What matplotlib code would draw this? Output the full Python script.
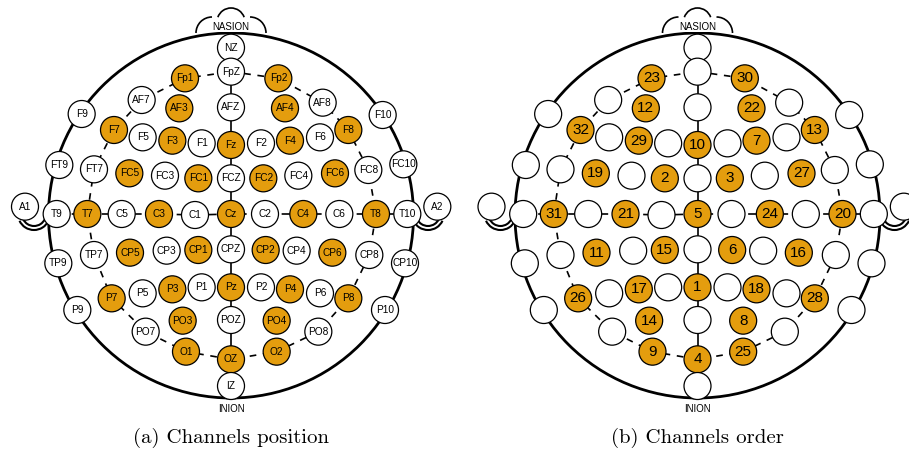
import numpy as np
import matplotlib.pyplot as plt
from matplotlib.patches import Circle, Arc

# electrode names and positions (pixel units, left panel)
names = ["NZ", "FpZ", "Fp1", "Fp2", "AF7", "AF3", "AFZ", "AF4", "AF8",
         "F9", "F7", "F5", "F3", "F1", "Fz", "F2", "F4", "F6", "F8", "F10",
         "FT9", "FT7", "FC5", "FC3", "FC1", "FCZ", "FC2", "FC4", "FC6", "FC8", "FC10",
         "A1", "T9", "T7", "C5", "C3", "C1", "Cz", "C2", "C4", "C6", "T8", "T10", "A2",
         "TP9", "TP7", "CP5", "CP3", "CP1", "CPZ", "CP2", "CP4", "CP6", "CP8", "CP10",
         "P9", "P7", "P5", "P3", "P1", "Pz", "P2", "P4", "P6", "P8", "P10",
         "PO7", "PO3", "POZ", "PO4", "PO8", "O1", "OZ", "O2", "IZ"]
xs = [693, 693, 555, 835, 425, 538, 693, 855, 968,
      245, 342, 428, 517, 605, 693, 783, 870, 960, 1045, 1148,
      178, 282, 388, 495, 595, 693, 790, 895, 1005, 1105, 1210,
      75, 170, 262, 365, 477, 585, 693, 795, 910, 1018, 1128, 1222, 1312,
      175, 282, 390, 500, 595, 693, 797, 890, 997, 1108, 1215,
      232, 335, 428, 517, 605, 693, 783, 870, 960, 1045, 1155,
      437, 548, 693, 830, 955, 558, 693, 830, 693]
ys = [143, 215, 235, 235, 300, 325, 322, 325, 308,
      342, 390, 412, 422, 430, 435, 430, 422, 412, 390, 345,
      495, 508, 520, 527, 535, 535, 535, 527, 520, 510, 493,
      620, 642, 642, 642, 642, 645, 642, 642, 642, 642, 642, 642, 620,
      790, 765, 758, 752, 750, 748, 750, 752, 758, 765, 790,
      930, 895, 880, 868, 862, 862, 862, 868, 880, 895, 930,
      995, 962, 960, 962, 995, 1055, 1078, 1055, 1158]
xs = [v / 3 for v in xs]
ys = [v / 3 for v in ys]

# selected channels in acquisition order (1..32)
order = ["Pz", "FC1", "FC2", "OZ", "Cz", "CP2", "F4", "PO4", "O1", "Fz",
         "CP5", "AF3", "F8", "PO3", "CP1", "CP6", "P3", "P4", "FC5", "T8",
         "C3", "AF4", "Fp1", "C4", "O2", "P7", "FC6", "P8", "F3", "Fp2",
         "T7", "F7"]

ring = ["FpZ", "Fp2", "AF8", "F8", "FC8", "T8", "CP8", "P8", "PO8", "O2", "OZ",
        "O1", "PO7", "P7", "TP7", "T7", "FT7", "F7", "AF7", "Fp1", "FpZ"]
midline = ["NZ", "FpZ", "AFZ", "Fz", "FCZ", "Cz", "CPZ", "POZ", "OZ", "IZ"]
centre_row = ["T9", "T7", "C5", "C3", "C1", "Cz", "C2", "C4", "C6", "T8", "T10"]

caps = ["(a) Channels position", "(b) Channels order"]
ORANGE = "#E49D0E"

pos = {n: (x, y) for n, x, y in zip(names, xs, ys)}

fig = plt.figure(figsize=(9.09, 4.55), dpi=100)
ax = fig.add_axes([0, 0, 1, 1])
ax.set_xlim(0, 909)
ax.set_ylim(455, 0)
ax.set_aspect("equal")
ax.axis("off")

cx0, cy0, R = 231, 215.5, 182.5
offsets = [0, 466.5]

for k, dx in enumerate(offsets):
    cx = cx0 + dx
    # head
    ax.add_patch(Circle((cx, cy0), R, fill=False, lw=2, zorder=1))
    # nose bump (y axis is inverted, so angles run clockwise on screen)
    ax.add_patch(Arc((cx - 19, 33), 32, 32, theta1=180, theta2=270, lw=1.2, zorder=1))
    ax.add_patch(Arc((cx + 19, 33), 32, 32, theta1=270, theta2=360, lw=1.2, zorder=1))
    ax.add_patch(Arc((cx, 22), 28, 28, theta1=200, theta2=340, lw=1.2, zorder=1))
    ax.text(cx, 27, "NASION", ha="center", va="center", fontsize=7,
            family="Liberation Sans", zorder=5,
            bbox=dict(fc="white", ec="none", pad=0.3))
    ax.text(cx, 409, "INION", ha="center", va="center", fontsize=7,
            family="Liberation Sans")
    # ears
    for sgn in (-1, 1):
        ex = cx + sgn * 197
        for r in (12, 16):
            ax.add_patch(Arc((ex, 214), 2 * r, 2 * r, theta1=25, theta2=155,
                             lw=1.5, zorder=1))
    # connection lines
    def pts(lst):
        return ([pos[n][0] + dx for n in lst], [pos[n][1] for n in lst])
    rx, ry = pts(ring)
    ax.plot(rx, ry, color="black", lw=1.2, ls=(0, (4, 4)), zorder=2)
    mx, my = pts(midline)
    ax.plot(mx, my, color="black", lw=1.2, zorder=2)
    hx, hy = pts(centre_row)
    ax.plot(hx, hy, color="black", lw=1.2, ls=(0, (6, 3)), zorder=2)
    # electrodes
    for n in names:
        x, y = pos[n]
        sel = n in order
        ax.add_patch(Circle((x + dx, y), 13.5, fc=ORANGE if sel else "white",
                            ec="black", lw=0.9, zorder=3))
        if k == 0:
            ax.text(x + dx, y, n, ha="center", va="center", fontsize=7.3,
                    family="Liberation Sans", zorder=4)
        elif sel:
            ax.text(x + dx, y, str(order.index(n) + 1), ha="center",
                    va="center", fontsize=11, family="Liberation Sans", zorder=4)
    ax.text(cx, 438, caps[k], ha="center", va="center", fontsize=15,
            family="cmr10")

fig.savefig("out.png", dpi=100)
